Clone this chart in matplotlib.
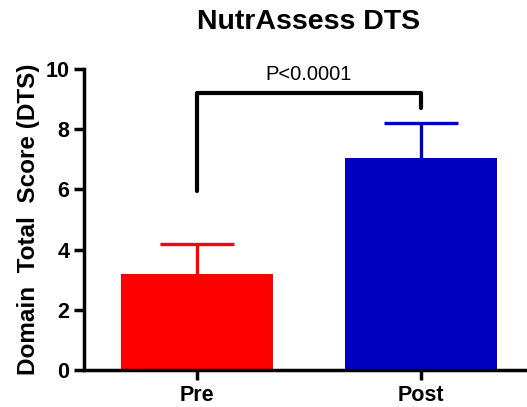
import matplotlib
matplotlib.use("Agg")
import matplotlib.pyplot as plt

categories = ["Pre", "Post"]
means = [3.2, 7.05]
sem_up = [1.0, 1.15]
colors = ["#FF0000", "#0000C0"]
p_text = "P<0.0001"
bracket_y = 9.2
bracket_left_bottom = 5.95
bracket_right_bottom = 8.7

plt.rcParams['font.family'] = ['Liberation Sans', 'DejaVu Sans']

fig = plt.figure(figsize=(5.27, 4.07), dpi=100)
ax = fig.add_axes([0.1594, 0.0909, 0.8406, 0.7396])
x = list(range(len(categories)))
ax.bar(x, means, width=0.68, color=colors, zorder=2)
cap_half = 0.165
for xi, m, e, c in zip(x, means, sem_up, colors):
    ax.vlines(xi, m, m + e, color=c, lw=2.4, zorder=1)
    ax.hlines(m + e, xi - cap_half, xi + cap_half, color=c, lw=2.4, zorder=1)

ax.plot([0, 0, 1, 1], [bracket_left_bottom, bracket_y, bracket_y, bracket_right_bottom],
        color='black', lw=3, solid_joinstyle='round', solid_capstyle='round',
        clip_on=False)
ax.text(0.5, bracket_y + 0.3, p_text, ha='center', va='bottom', fontsize=14.5)

ax.set_xlim(-0.504, 1.473)
ax.set_ylim(0, 10)
ax.set_yticks([0, 2, 4, 6, 8, 10])
ax.set_xticks(x)
ax.set_xticklabels(categories)
for s in ['top', 'right']:
    ax.spines[s].set_visible(False)
for s in ['left', 'bottom']:
    ax.spines[s].set_linewidth(2.5)
ax.tick_params(width=2.5, length=7, labelsize=15.5)
for lab in ax.get_xticklabels() + ax.get_yticklabels():
    lab.set_fontweight('bold')
ax.set_ylabel("Domain  Total  Score (DTS)", fontsize=17.5, fontweight='bold', labelpad=4)
fig.text(0.585, 0.945, "NutrAssess DTS", ha='center', va='center', fontsize=20.5, fontweight='bold')

fig.savefig("out.png", dpi=100)
